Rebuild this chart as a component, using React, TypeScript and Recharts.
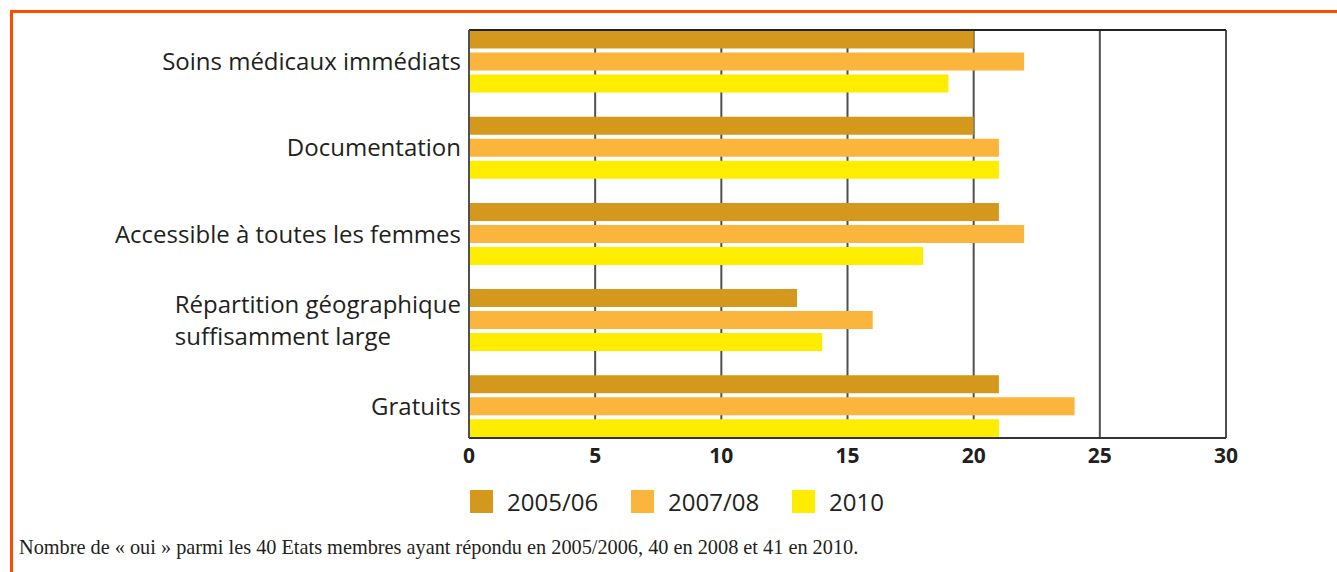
import { BarChart, Bar, XAxis, YAxis, CartesianGrid, Legend } from 'recharts';

const categories = [
  'Soins médicaux immédiats',
  'Documentation',
  'Accessible à toutes les femmes',
  'Répartition géographique\nsuffisamment large',
  'Gratuits',
];
const values2005 = [20, 20, 21, 13, 21];
const values2007 = [22, 21, 22, 16, 24];
const values2010 = [19, 21, 18, 14, 21];
const xTicks = [0, 5, 10, 15, 20, 25, 30];

const SERIES = [
  { key: 'v2005', name: '2005/06', color: '#d4981d' },
  { key: 'v2007', name: '2007/08', color: '#fbb53c' },
  { key: 'v2010', name: '2010', color: '#ffed00' },
];

const data = categories.map((name, i) => ({
  name,
  v2005: values2005[i],
  v2007: values2007[i],
  v2010: values2010[i],
}));

const FONT = '"Open Sans", sans-serif';
const TEXT = '#231f20';
const LABEL_SIZE = 24;

let measureCtx: CanvasRenderingContext2D | null = null;
const textWidth = (s: string) => {
  if (!measureCtx) measureCtx = document.createElement('canvas').getContext('2d');
  if (!measureCtx) return s.length * LABEL_SIZE * 0.5;
  measureCtx.font = `${LABEL_SIZE}px "Open Sans"`;
  return measureCtx.measureText(s).width;
};

// category labels: one line right-aligned, several lines left-aligned as a block
const CategoryTick = ({ x, y, payload }: any) => {
  const lines = String(payload.value).split('\n');
  if (lines.length === 1) {
    return (
      <text x={x} y={y} dy="0.36em" textAnchor="end" fontSize={LABEL_SIZE} fontFamily={FONT} fill={TEXT}>
        {lines[0]}
      </text>
    );
  }
  const w = Math.max(...lines.map(textWidth));
  const lh = 32;
  const start = y - ((lines.length - 1) * lh) / 2;
  return (
    <text x={x - w} y={start} textAnchor="start" fontSize={LABEL_SIZE} fontFamily={FONT} fill={TEXT}>
      {lines.map((l, i) => (
        <tspan key={i} x={x - w} dy={i === 0 ? '0.36em' : lh}>
          {l}
        </tspan>
      ))}
    </text>
  );
};

const renderLegend = () => (
  <div style={{ display: 'flex', paddingLeft: 470, paddingTop: 12, fontFamily: FONT }}>
    {SERIES.map((s) => (
      <div key={s.key} style={{ display: 'flex', alignItems: 'center', width: 161 }}>
        <span style={{ width: 23, height: 23, background: s.color, display: 'inline-block' }} />
        <span style={{ marginLeft: 14, fontSize: LABEL_SIZE, color: TEXT, lineHeight: '23px' }}>{s.name}</span>
      </div>
    ))}
  </div>
);

export default function App() {
  return (
    <div
      style={{
        position: 'absolute',
        left: 0,
        top: 0,
        width: 1337,
        height: 572,
        overflow: 'hidden',
        background: '#fff',
      }}
    >
      <div
        style={{
          position: 'absolute',
          left: 10,
          top: 10,
          width: 1400,
          height: 700,
          borderTop: '3px solid #ff4b00',
          borderLeft: '3px solid #ff4b00',
        }}
      />
      <div style={{ position: 'absolute', left: 0, top: 0 }}>
        <BarChart
          width={1337}
          height={530}
          data={data}
          layout="vertical"
          margin={{ top: 29, right: 111, bottom: 0, left: 0 }}
          barSize={18}
          barGap={4}
        >
          <CartesianGrid horizontal={false} stroke="#505050" strokeWidth={2} />
          <XAxis
            type="number"
            domain={[0, 30]}
            ticks={xTicks}
            interval={0}
            height={40}
            tickSize={0}
            tickMargin={10}
            axisLine={{ stroke: '#333', strokeWidth: 2 }}
            tick={{ fontSize: 21, fontWeight: 700, fontFamily: FONT, fill: TEXT }}
          />
          <XAxis
            xAxisId="top"
            orientation="top"
            type="number"
            domain={[0, 30]}
            height={1}
            tick={false}
            tickLine={false}
            axisLine={{ stroke: '#222', strokeWidth: 2 }}
          />
          <YAxis
            type="category"
            dataKey="name"
            width={469}
            tickSize={0}
            tickMargin={8}
            padding={{ top: -11.6, bottom: -11.6 }}
            axisLine={{ stroke: '#505050', strokeWidth: 2 }}
            tick={<CategoryTick />}
            interval={0}
          />
          <Legend
            verticalAlign="bottom"
            content={renderLegend}
            wrapperStyle={{ height: 52 }}
          />
          {SERIES.map((s) => (
            <Bar key={s.key} dataKey={s.key} name={s.name} fill={s.color} isAnimationActive={false} />
          ))}
        </BarChart>
      </div>
      <div
        style={{
          position: 'absolute',
          left: 19,
          top: 536,
          fontFamily: '"Liberation Serif", serif',
          fontSize: 20.3,
          color: TEXT,
          whiteSpace: 'nowrap',
        }}
      >
        Nombre de « oui » parmi les 40 Etats membres ayant répondu en 2005/2006, 40 en 2008 et 41 en 2010.
      </div>
    </div>
  );
}
